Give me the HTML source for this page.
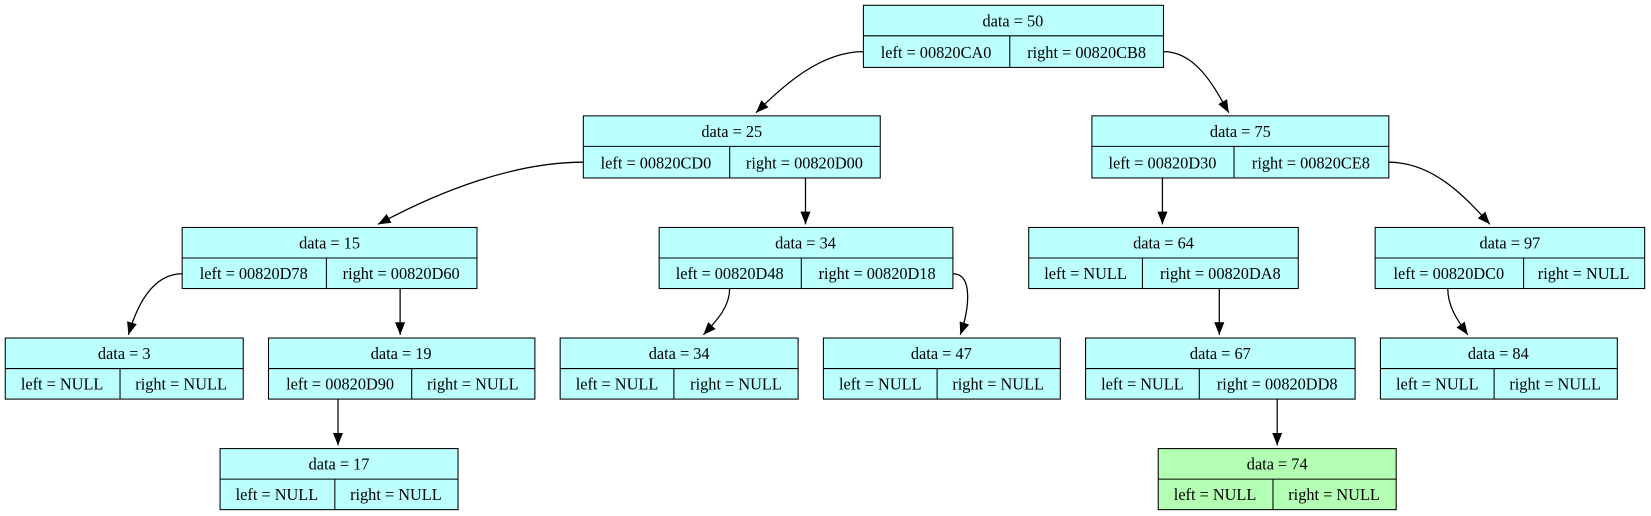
<!DOCTYPE html>
<html><head><meta charset="utf-8"><style>
html,body{margin:0;padding:0;background:#fff;}
svg{display:block;}
text{font-family:"Liberation Serif",serif;font-size:15.5px;fill:#000;}
</style></head><body>
<svg width="1651" height="516" viewBox="0 0 1568 490" xmlns="http://www.w3.org/2000/svg">
<defs><marker id="a" viewBox="0 0 10 10" refX="10" refY="5" markerWidth="12" markerHeight="12" markerUnits="userSpaceOnUse" orient="auto"><path d="M0,1 L10,5 L0,9 z" fill="#000"/></marker></defs>
<g fill="none" stroke="#000" stroke-width="1.2" marker-end="url(#a)">
<path d="M820,49 C780,49 745,80 718,107"/>
<path d="M1105,49 C1135,49 1152,80 1167,107"/>
<path d="M554,154 C490,154 420,180 359,213"/>
<path d="M765,169 L765,213"/>
<path d="M1104,169 L1104,213"/>
<path d="M1319,154 C1360,154 1390,185 1415,213"/>
<path d="M173,260 C145,260 130,290 122,318"/>
<path d="M380,274 L380,318"/>
<path d="M693,274 C693,292 680,305 668,318"/>
<path d="M905,260 C925,260 920,295 912,318"/>
<path d="M1158,274 L1158,318"/>
<path d="M1375,274 C1375,292 1385,305 1394,318"/>
<path d="M321,379 L321,423"/>
<path d="M1213,379 L1213,423"/>
</g>
<g stroke="#000" stroke-width="1" fill="#bbffff">
<rect x="820" y="5" width="285" height="59"/><line x1="820" y1="34" x2="1105" y2="34"/><line x1="959" y1="34" x2="959" y2="64"/>
<rect x="554" y="110" width="282" height="59"/><line x1="554" y1="139" x2="836" y2="139"/><line x1="693" y1="139" x2="693" y2="169"/>
<rect x="1037" y="110" width="282" height="59"/><line x1="1037" y1="139" x2="1319" y2="139"/><line x1="1172" y1="139" x2="1172" y2="169"/>
<rect x="173" y="216" width="280" height="58"/><line x1="173" y1="245" x2="453" y2="245"/><line x1="310" y1="245" x2="310" y2="274"/>
<rect x="626" y="216" width="279" height="58"/><line x1="626" y1="245" x2="905" y2="245"/><line x1="761" y1="245" x2="761" y2="274"/>
<rect x="977" y="216" width="256" height="58"/><line x1="977" y1="245" x2="1233" y2="245"/><line x1="1085" y1="245" x2="1085" y2="274"/>
<rect x="1306" y="216" width="256" height="58"/><line x1="1306" y1="245" x2="1562" y2="245"/><line x1="1447" y1="245" x2="1447" y2="274"/>
<rect x="5" y="321" width="226" height="58"/><line x1="5" y1="350" x2="231" y2="350"/><line x1="114" y1="350" x2="114" y2="379"/>
<rect x="255" y="321" width="253" height="58"/><line x1="255" y1="350" x2="508" y2="350"/><line x1="391" y1="350" x2="391" y2="379"/>
<rect x="532" y="321" width="226" height="58"/><line x1="532" y1="350" x2="758" y2="350"/><line x1="640" y1="350" x2="640" y2="379"/>
<rect x="782" y="321" width="225" height="58"/><line x1="782" y1="350" x2="1007" y2="350"/><line x1="890" y1="350" x2="890" y2="379"/>
<rect x="1031" y="321" width="256" height="58"/><line x1="1031" y1="350" x2="1287" y2="350"/><line x1="1139" y1="350" x2="1139" y2="379"/>
<rect x="1311" y="321" width="225" height="58"/><line x1="1311" y1="350" x2="1536" y2="350"/><line x1="1419" y1="350" x2="1419" y2="379"/>
<rect x="209" y="426" width="226" height="58"/><line x1="209" y1="455" x2="435" y2="455"/><line x1="318" y1="455" x2="318" y2="484"/>
<rect x="1100" y="426" width="226" height="58" fill="#b3ffb3"/><line x1="1100" y1="455" x2="1326" y2="455"/><line x1="1209" y1="455" x2="1209" y2="484"/>
</g>
<g text-anchor="middle">
<text x="962" y="25">data = 50</text><text x="889" y="55">left = 00820CA0</text><text x="1032" y="55">right = 00820CB8</text>
<text x="695" y="130">data = 25</text><text x="623" y="160">left = 00820CD0</text><text x="764" y="160">right = 00820D00</text>
<text x="1178" y="130">data = 75</text><text x="1104" y="160">left = 00820D30</text><text x="1245" y="160">right = 00820CE8</text>
<text x="313" y="236">data = 15</text><text x="241" y="265">left = 00820D78</text><text x="381" y="265">right = 00820D60</text>
<text x="765" y="236">data = 34</text><text x="693" y="265">left = 00820D48</text><text x="833" y="265">right = 00820D18</text>
<text x="1105" y="236">data = 64</text><text x="1031" y="265">left = NULL</text><text x="1159" y="265">right = 00820DA8</text>
<text x="1434" y="236">data = 97</text><text x="1376" y="265">left = 00820DC0</text><text x="1504" y="265">right = NULL</text>
<text x="118" y="341">data = 3</text><text x="59" y="370">left = NULL</text><text x="172" y="370">right = NULL</text>
<text x="381" y="341">data = 19</text><text x="323" y="370">left = 00820D90</text><text x="449" y="370">right = NULL</text>
<text x="645" y="341">data = 34</text><text x="586" y="370">left = NULL</text><text x="699" y="370">right = NULL</text>
<text x="894" y="341">data = 47</text><text x="836" y="370">left = NULL</text><text x="948" y="370">right = NULL</text>
<text x="1159" y="341">data = 67</text><text x="1085" y="370">left = NULL</text><text x="1213" y="370">right = 00820DD8</text>
<text x="1423" y="341">data = 84</text><text x="1365" y="370">left = NULL</text><text x="1477" y="370">right = NULL</text>
<text x="322" y="446">data = 17</text><text x="263" y="475">left = NULL</text><text x="376" y="475">right = NULL</text>
<text x="1213" y="446">data = 74</text><text x="1154" y="475">left = NULL</text><text x="1267" y="475">right = NULL</text>
</g>
</svg>
</body></html>
